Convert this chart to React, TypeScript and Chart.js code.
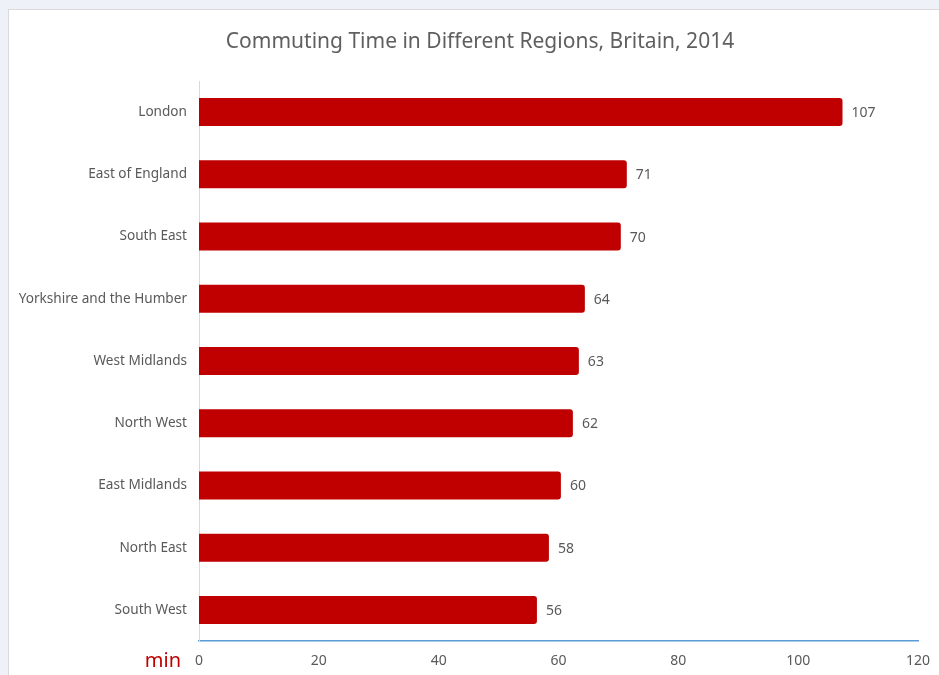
import React, { useEffect, useRef } from "react";
import { Chart, registerables } from "chart.js";

Chart.register(...registerables);

const categories = [
  "London",
  "East of England",
  "South East",
  "Yorkshire and the Humber",
  "West Midlands",
  "North West",
  "East Midlands",
  "North East",
  "South West",
];
const minutes = [107.4, 71.4, 70.4, 64.4, 63.4, 62.4, 60.4, 58.4, 56.4];
const xTickMin = 0;
const xTickMax = 120;
const xTickStep = 20;
const titleText = "Commuting Time in Different Regions, Britain, 2014";
const unitText = "min";

const FONT = "'Noto Sans', 'DejaVu Sans', sans-serif";

const labelPlugin = {
  id: "barLabels",
  afterDatasetsDraw(chart: any) {
    const ctx = chart.ctx;
    const meta = chart.getDatasetMeta(0);
    ctx.save();
    ctx.font = `14px ${FONT}`;
    ctx.fillStyle = "#595959";
    ctx.textAlign = "left";
    ctx.textBaseline = "middle";
    meta.data.forEach((bar: any, i: number) => {
      const v = chart.data.datasets[0].data[i];
      ctx.fillText(String(Math.round(v)), bar.x + 9, bar.y + 1);
    });
    // title
    ctx.font = `21px ${FONT}`;
    ctx.fillStyle = "#5f5f5f";
    ctx.textAlign = "center";
    ctx.fillText(titleText, 480, 42);
    // unit label
    const xScale = chart.scales.x;
    ctx.font = `20px ${FONT}`;
    ctx.fillStyle = "#c00000";
    ctx.textAlign = "right";
    ctx.fillText(unitText, chart.chartArea.left - 18, xScale.top + 20);
    ctx.restore();
  },
};

export default function App() {
  const ref = useRef<HTMLCanvasElement | null>(null);

  useEffect(() => {
    document.body.style.margin = "0";
    if (!ref.current) return;
    const chart = new Chart(ref.current, {
      type: "bar",
      data: {
        labels: categories,
        datasets: [
          {
            data: minutes,
            backgroundColor: "#c00000",
            borderRadius: { topLeft: 0, bottomLeft: 0, topRight: 3, bottomRight: 3 },
            borderSkipped: false,
            barPercentage: 0.9,
            categoryPercentage: 0.5,
          },
        ],
      },
      options: {
        indexAxis: "y",
        animation: false,
        responsive: false,
        maintainAspectRatio: false,
        layout: { padding: { left: 0, right: 21, top: 81, bottom: 0 } },
        plugins: {
          legend: { display: false },
          tooltip: { enabled: false },
          title: { display: false },
        },
        scales: {
          x: {
            min: xTickMin,
            max: xTickMax,
            ticks: {
              stepSize: xTickStep,
              color: "#595959",
              font: { family: FONT, size: 14 },
              padding: 12,
            },
            grid: { display: false, drawTicks: false },
            border: { display: true, color: "#5b9bd5", width: 1.5 },
            afterFit(scale: any) {
              scale.height = 34;
              scale.paddingLeft = 0;
              scale.paddingRight = 0;
            },
          },
          y: {
            ticks: {
              color: "#595959",
              font: { family: FONT, size: 13.6, lineHeight: 1.0 },
              padding: 12,
            },
            grid: { display: false, drawTicks: false },
            border: { display: true, color: "#d9d9d9", width: 1 },
            afterFit(scale: any) {
              scale.width = 199;
              scale.paddingTop = 0;
              scale.paddingBottom = 0;
            },
          },
        },
      },
      plugins: [labelPlugin],
    });
    return () => chart.destroy();
  }, []);

  return (
    <div
      style={{
        position: "relative",
        width: 939,
        height: 675,
        background: "#eef1f8",
        overflow: "hidden",
      }}
    >
      <div
        style={{
          position: "absolute",
          left: 8,
          top: 9,
          width: 960,
          height: 700,
          background: "#ffffff",
          border: "1px solid #d9d9d9",
        }}
      />
      <canvas
        ref={ref}
        width={939}
        height={675}
        style={{ position: "absolute", left: 0, top: 0, width: 939, height: 675 }}
      />
    </div>
  );
}
